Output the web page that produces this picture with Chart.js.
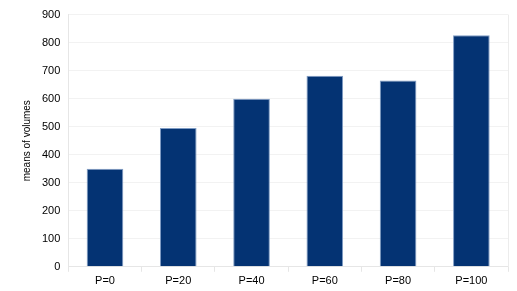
<!DOCTYPE html>
<html><head><meta charset="utf-8">
<script src="https://cdn.jsdelivr.net/npm/chart.js@4"></script>
<style>html,body{margin:0;padding:0;background:#fff}#w{width:517px;height:291px}</style>
</head><body><div id="w"><canvas id="c"></canvas></div>
<script>
const categories = ["P=0","P=20","P=40","P=60","P=80","P=100"];
const meansOfVolumes = [350, 495, 600, 682, 665, 826];
const yTicks = [0,100,200,300,400,500,600,700,800,900];

const sideBorders = {
  id: 'sideBorders',
  afterDraw(chart){
    const a = chart.chartArea, ctx = chart.ctx;
    ctx.save(); ctx.strokeStyle = '#ececec'; ctx.lineWidth = 1;
    ctx.beginPath(); ctx.moveTo(Math.round(a.right)+0.5, a.top); ctx.lineTo(Math.round(a.right)+0.5, a.bottom); ctx.stroke();
    ctx.restore();
  }
};

Chart.defaults.font.family = "'Liberation Sans', Arial, sans-serif";
Chart.defaults.color = '#000';
new Chart(document.getElementById('c'), {
  type: 'bar',
  data: { labels: categories, datasets: [{
    label: 'means of volumes', data: meansOfVolumes,
    backgroundColor: '#043373', borderColor: '#7f9cc4', borderWidth: {top:1,left:1,right:1,bottom:0},
    barPercentage: 0.5, categoryPercentage: 1.0
  }]},
  options: {
    responsive: true, maintainAspectRatio: false, animation: false,
    layout: { padding: { top: 7, right: 9, left: 17, bottom: 0 } },
    plugins: { legend: { display: false }, tooltip: { enabled: false } },
    scales: {
      x: {
        grid: { display: true, drawOnChartArea: false, offset: true, tickLength: 5, color: '#e6e6e6' },
        border: { display: true, color: '#e6e6e6' },
        ticks: { font: { size: 11 }, padding: 3 }
      },
      y: {
        min: 0, max: 900,
        afterBuildTicks(s){ s.ticks = yTicks.map(v => ({value: v})); },
        grid: { color: '#f2f2f2', drawTicks: false },
        border: { display: true, color: '#e6e6e6' },
        ticks: { font: { size: 11 }, padding: 8 },
        title: { display: true, text: 'means of volumes', font: { size: 10 }, padding: { bottom: 1 } }
      }
    }
  },
  plugins: [sideBorders]
});
</script></body></html>
